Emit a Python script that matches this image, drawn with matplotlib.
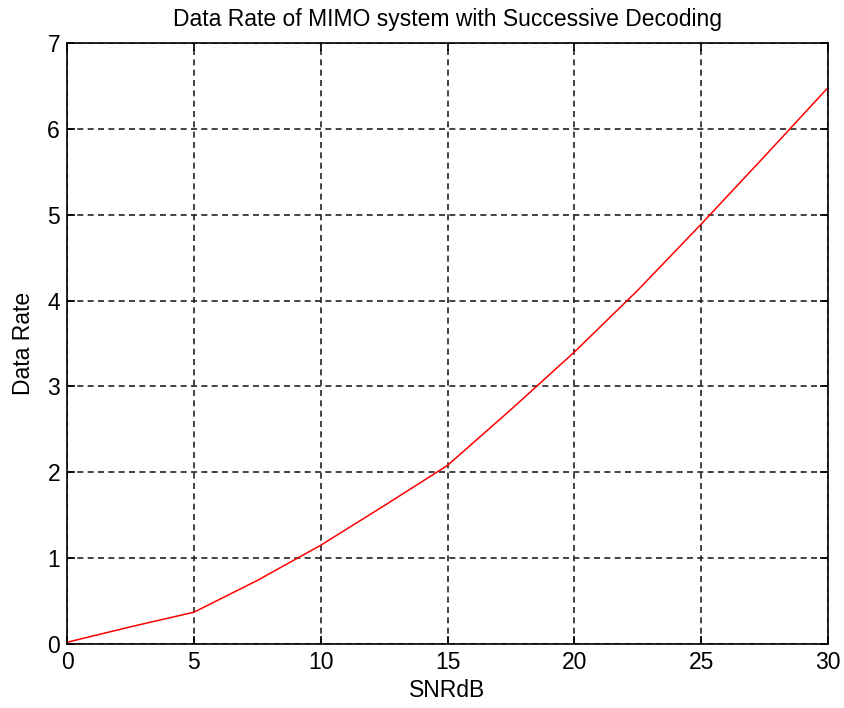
import matplotlib
matplotlib.use('Agg')
import matplotlib.pyplot as plt

snr_db = [0, 2.5, 5, 7.5, 10, 12.5, 15, 17.5, 20, 22.5, 25, 27.5, 30]
rate = [0.02, 0.20, 0.37, 0.74, 1.15, 1.61, 2.08, 2.73, 3.40, 4.12, 4.89, 5.68, 6.48]
x_ticks = [0, 5, 10, 15, 20, 25, 30]
y_ticks = [0, 1, 2, 3, 4, 5, 6, 7]

plt.rcParams['font.family'] = ['Liberation Sans', 'DejaVu Sans']

fig = plt.figure(figsize=(8.44, 7.08), dpi=100)
ax = fig.add_axes([0.0794, 0.0904, 0.9017, 0.849])
ax.plot(snr_db, rate, color='red', linewidth=1.1)

ax.set_xlim(0, 30)
ax.set_ylim(0, 7)
ax.set_xticks(x_ticks)
ax.set_yticks(y_ticks)
ax.grid(True, color='#222222', linestyle=(0, (3.6, 2.6)), linewidth=1.2)
ax.tick_params(direction='in', top=True, right=True, length=6, labelsize=16.5, width=1.2, pad=5)
for s in ax.spines.values():
    s.set_linewidth(1.2)

ax.set_title('Data Rate of MIMO system with Successive Decoding', fontsize=16.5, pad=12)
ax.set_xlabel('SNRdB', fontsize=16.5, labelpad=4)
ax.set_ylabel('Data Rate', fontsize=16.5, labelpad=9)

fig.savefig('out.png', dpi=100)
